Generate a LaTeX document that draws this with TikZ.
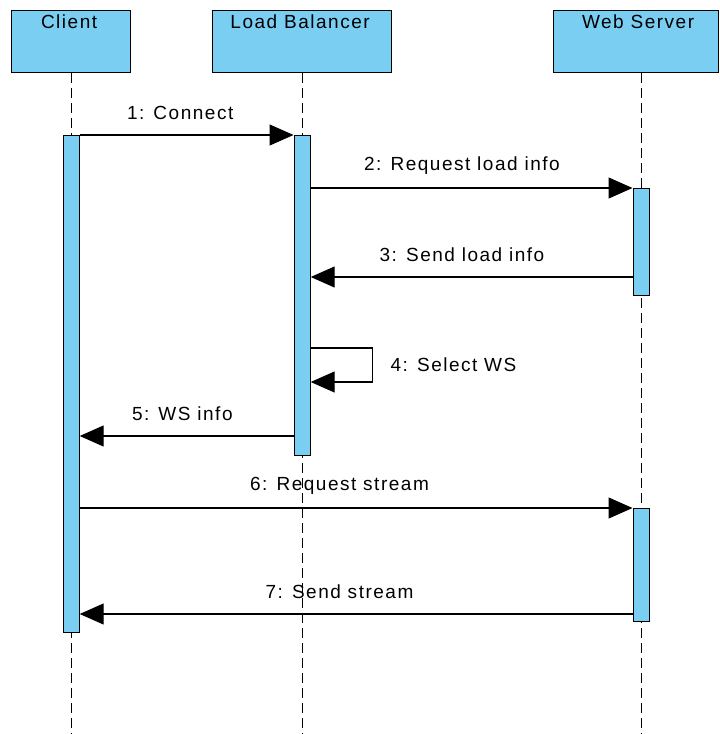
\documentclass[tikz,border=0pt]{standalone}
\usepackage{fontspec}
\setmainfont{Liberation Sans}[LetterSpace=8]
\usepackage{xcolor}
\usepackage{tikz}
\usetikzlibrary{arrows.meta}
\definecolor{lifeblue}{RGB}{122,206,242}

\begin{document}
\begin{tikzpicture}[x=1pt, y=-1pt, font=\fontsize{19}{22}\selectfont,
    head/.style={rectangle, draw, fill=lifeblue, line width=1.2pt, minimum height=62pt, anchor=north west, inner sep=0pt},
    bar/.style={rectangle, draw, fill=lifeblue, line width=1.2pt, minimum width=16pt, anchor=north, inner sep=0pt},
    msg/.style={line width=1.2pt, -{Triangle[length=24pt,width=21pt]}},
    life/.style={dash pattern=on 10pt off 5pt, line width=1.2pt}]
        \useasboundingbox (0,0) rectangle (720,734);

        % heads of the lifelines
        \node (client) [head, minimum width=119pt, label={[anchor=north,yshift=-1pt,xshift=-2pt]north:Client}] at (11,10) {};
        \node (lb) [head, minimum width=179pt, label={[anchor=north,yshift=-1pt,xshift=-2pt]north:Load Balancer}] at (212,10) {};
        \node (ws) [head, minimum width=165pt, label={[anchor=north,yshift=-1pt,xshift=2pt]north:Web Server}] at (553,10) {};
        \coordinate (wsfoot) at ([xshift=5pt]ws.south);

        \draw[life] (client.south) -- (client.south |- 0,734);
        \draw[life] (lb.south) -- (lb.south |- 0,734);
        \draw[life] (wsfoot) -- (wsfoot |- 0,734);

        % activation bars
        \node (cbar) [bar, minimum height=497pt] at (client.south |- 0,135) {};
        \node (lbbar) [bar, minimum height=320pt] at (lb.south |- 0,135) {};
        \node (wsbarA) [bar, minimum height=107pt] at (wsfoot |- 0,188) {};
        \node (wsbarB) [bar, minimum height=113pt] at (wsfoot |- 0,508) {};

        % messages
        \draw[msg] (cbar.north east) -- node[pos=0.47, yshift=22pt] {1: Connect} (lbbar.north west);
        \draw[msg] (lbbar.east |- wsbarA.north) -- node[pos=0.47, yshift=22pt] {2: Request load info} (wsbarA.north west);
        \draw[msg] (wsbarA.west |- 0,277) -- node[pos=0.53, yshift=22pt] {3: Send load info} (lbbar.east |- 0,277);
        \draw[msg] (lbbar.east |- 0,348) -- ++(62,0) -- ++(0,34) node[midway, right=14pt] {4: Select WS} -- (lbbar.east |- 0,382);
        \draw[msg] (lbbar.west |- 0,436) -- node[pos=0.52, yshift=22pt] {5: WS info} (cbar.east |- 0,436);
        \draw[msg] (cbar.east |- wsbarB.north) -- node[pos=0.47, yshift=22pt] {6: Request stream} (wsbarB.north west);
        \draw[msg] (wsbarB.west |- 0,614) -- node[pos=0.53, yshift=22pt] {7: Send stream} (cbar.east |- 0,614);
\end{tikzpicture}
\end{document}
